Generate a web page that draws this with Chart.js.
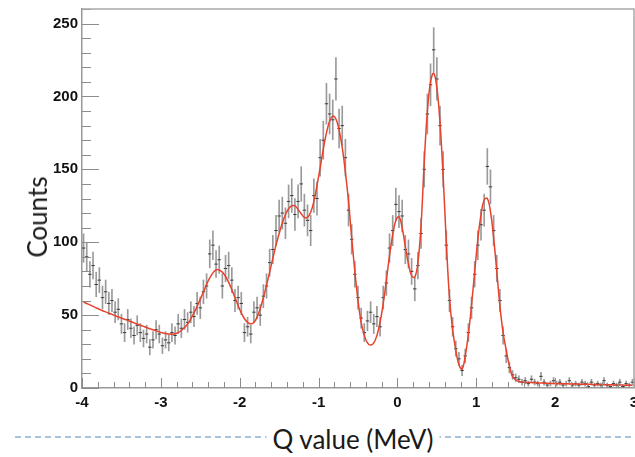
<!DOCTYPE html>
<html lang="en">
<head>
  <meta charset="UTF-8">
  <title>Q value spectrum</title>
  <script src="https://cdn.jsdelivr.net/npm/chart.js"></script>
  <style>
    body { margin: 0; background: white; }
    #wrap { position: relative; width: 635px; height: 457px; overflow: hidden; }
    #chart { position: absolute; left: 0; top: 0; }
    #dash {
      position: absolute; left: 15px; top: 436px; width: 620px; height: 2px;
      background-image: linear-gradient(to right, #a9c3da 60%, transparent 60%);
      background-size: 10px 2px;
    }
    .lab { position: absolute; font-family: Lato, "Open Sans", sans-serif; font-size: 26px; color: #1a1a1a; white-space: nowrap; }
    #ylab { left: 37px; top: 217px; transform: translate(-50%, -50%) rotate(-90deg); }
    #xlab { left: 353px; top: 439px; transform: translate(-50%, -50%); background: white; padding: 0 6px; }
  </style>
</head>
<body>
<div id="wrap">
  <canvas id="chart" width="635" height="457"></canvas>
  <div id="dash"></div>
  <div class="lab" id="ylab">Counts</div>
  <div class="lab" id="xlab">Q value (MeV)</div>
</div>

<script>
// bin centres (MeV)
const qValues = [
  -3.98,-3.94,-3.90,-3.86,-3.82,-3.78,-3.74,-3.70,-3.66,-3.62,
  -3.58,-3.54,-3.50,-3.46,-3.42,-3.38,-3.34,-3.30,-3.26,-3.22,
  -3.18,-3.14,-3.10,-3.06,-3.02,-2.98,-2.94,-2.90,-2.86,-2.82,
  -2.78,-2.74,-2.70,-2.66,-2.62,-2.58,-2.54,-2.50,-2.46,-2.42,
  -2.38,-2.34,-2.30,-2.26,-2.22,-2.18,-2.14,-2.10,-2.06,-2.02,
  -1.98,-1.94,-1.90,-1.86,-1.82,-1.78,-1.74,-1.70,-1.66,-1.62,
  -1.58,-1.54,-1.50,-1.46,-1.42,-1.38,-1.34,-1.30,-1.26,-1.22,
  -1.18,-1.14,-1.10,-1.06,-1.02,-0.98,-0.94,-0.90,-0.86,-0.82,
  -0.78,-0.74,-0.70,-0.66,-0.62,-0.58,-0.54,-0.50,-0.46,-0.42,
  -0.38,-0.34,-0.30,-0.26,-0.22,-0.18,-0.14,-0.10,-0.06,-0.02,
  0.02,0.06,0.10,0.14,0.18,0.22,0.26,0.30,0.34,0.38,
  0.42,0.46,0.50,0.54,0.58,0.62,0.66,0.70,0.74,0.78,
  0.82,0.86,0.90,0.94,0.98,1.02,1.06,1.10,1.14,1.18,
  1.22,1.26,1.30,1.34,1.38,1.42,1.46,1.50,1.54,1.58,
  1.62,1.66,1.70,1.74,1.78,1.82,1.86,1.90,1.94,1.98,
  2.02,2.06,2.10,2.14,2.18,2.22,2.26,2.30,2.34,2.38,
  2.42,2.46,2.50,2.54,2.58,2.62,2.66,2.70,2.74,2.78,
  2.82,2.86,2.90,2.94,2.98
];

// measured counts per bin
const counts = [
  96,90,78,84,71,74,62,66,58,60,
  52,54,44,38,47,41,36,43,38,34,
  37,28,33,40,37,29,33,31,38,36,
  44,41,47,45,52,49,58,55,66,70,
  92,98,85,88,70,82,84,74,60,62,
  58,38,42,37,52,55,50,63,70,86,
  95,108,118,120,113,128,132,119,128,140,
  122,115,108,132,130,158,170,195,188,184,
  212,178,180,158,122,102,78,62,48,38,
  46,52,44,49,42,62,72,96,108,126,
  121,118,95,92,80,68,84,106,150,188,
  208,232,212,180,150,98,60,42,27,20,
  12,22,38,55,78,98,112,122,152,138,
  108,82,60,36,22,14,9,7,6,4,
  5,3,6,4,3,8,4,2,3,5,
  3,4,2,3,5,2,3,2,4,3,
  1,4,2,3,2,5,2,1,3,2,
  4,1,3,2,4
];

// statistical errors per bin
const errors = [
  9.8,9.5,8.8,9.2,8.4,8.6,7.9,8.1,7.6,7.7,
  7.2,7.3,6.6,6.2,6.9,6.4,6.0,6.6,6.2,5.8,
  6.1,5.3,5.7,6.3,6.1,5.4,5.7,5.6,6.2,6.0,
  6.6,6.4,6.9,6.7,7.2,7.0,7.6,7.4,8.1,8.4,
  9.6,9.9,9.2,9.4,8.4,9.1,9.2,8.6,7.7,7.9,
  7.6,6.2,6.5,6.1,7.2,7.4,7.1,7.9,8.4,9.3,
  9.7,10.4,10.9,11.0,10.6,11.3,11.5,10.9,11.3,11.8,
  11.0,10.7,10.4,11.5,11.4,12.6,13.0,14.0,13.7,13.6,
  14.6,13.3,13.4,12.6,11.0,10.1,8.8,7.9,6.9,6.2,
  6.8,7.2,6.6,7.0,6.5,7.9,8.5,9.8,10.4,11.2,
  11.0,10.9,9.7,9.6,8.9,8.2,9.2,10.3,12.2,13.7,
  14.4,15.2,14.6,13.4,12.2,9.9,7.7,6.5,5.2,4.5,
  3.5,4.7,6.2,7.4,8.8,9.9,10.6,11.0,12.3,11.7,
  10.4,9.1,7.7,6.0,4.7,3.7,3.0,2.6,2.4,2.0,
  2.2,1.7,2.4,2.0,1.7,2.8,2.0,1.4,1.7,2.2,
  1.7,2.0,1.4,1.7,2.2,1.4,1.7,1.4,2.0,1.7,
  1.0,2.0,1.4,1.7,1.4,2.2,1.4,1.0,1.7,1.4,
  2.0,1.0,1.7,1.4,2.0
];

const fitCurve = [
  59,58,57,56,55,54,53,52.2,51.3,50.5,
  49.6,48.8,48,47.2,46.3,45.5,44.7,43.9,43.1,42.3,
  41.5,40.7,40,39.2,38.5,37.9,37.4,37,36.9,37.2,
  38,39.5,41.5,44,47.5,51.5,56,61,66,71,
  75.5,79,81,81,79.5,76.5,72.5,67.5,62,56.5,
  51.5,47.5,45,44,45,48.5,54.5,62,70.5,79.5,
  89,98,106,113,119,123,125,125,122.5,119.5,
  117,117,120.5,128,139,151,164,175,183,186.5,
  184.5,177,165,148,128,103,80,60,45,36,
  31,29.5,31,36,45,58,74,91,105,115,
  117.5,110,97,85,77,76,86,112,155,190,
  210,216,206,182,145,100,62,40,26,16,
  13,22,37,57,80,102,119,129,130,121,
  103,80,56,38,26,15,8,5.5,4.5,4.1,
  3.9,3.8,3.7,3.6,3.5,3.4,3.3,3.3,3.2,3.1,
  3.0,3.0,2.9,2.9,2.8,2.8,2.7,2.7,2.6,2.6,
  2.5,2.5,2.4,2.4,2.3,2.3,2.2,2.2,2.1,2.1,
  2.0,2.0,1.9,1.9,1.8
];

const xTicks = [-4, -3, -2, -1, 0, 1, 2, 3];
const yTicks = [0, 50, 100, 150, 200, 250];

// ROOT style frame: inward ticks, grey box
const framePlugin = {
  id: "frame",
  afterDatasetsDraw(chart) {
    const { ctx, chartArea: a, scales: { x, y } } = chart;
    ctx.save();
    ctx.strokeStyle = "#8c8c8c";
    ctx.lineWidth = 1;
    ctx.beginPath();
    for (let i = 0; i <= 26; i++) {
      const v = i * 10;
      const py = Math.round(y.getPixelForValue(v)) + 0.5;
      const len = yTicks.includes(v) ? 17 : 9;
      ctx.moveTo(a.left, py);
      ctx.lineTo(a.left + len, py);
    }
    for (let i = -20; i <= 15; i++) {
      const v = i / 5;
      const px = Math.round(x.getPixelForValue(v)) + 0.5;
      const len = i % 5 === 0 ? 10 : 6;
      ctx.moveTo(px, a.bottom);
      ctx.lineTo(px, a.bottom - len);
    }
    ctx.stroke();
    ctx.strokeStyle = "#a8a8a8";
    ctx.lineWidth = 1.5;
    ctx.beginPath();
    ctx.moveTo(a.left, a.top);
    ctx.lineTo(a.right, a.top);
    ctx.lineTo(a.right, a.bottom);
    ctx.stroke();
    ctx.restore();
  }
};

const tickFont = { family: "'Liberation Sans', Arial, sans-serif", size: 15, weight: "bold" };

new Chart(document.getElementById("chart"), {
  type: "bar",
  data: {
    datasets: [
      {
        type: "line",
        label: "fit",
        data: qValues.map((q, i) => ({ x: q, y: fitCurve[i] })),
        borderColor: "#e8412c",
        borderWidth: 1.5,
        pointRadius: 0,
        tension: 0.4,
        order: 0
      },
      {
        type: "scatter",
        label: "data",
        data: qValues.map((q, i) => ({ x: q, y: counts[i] })),
        pointStyle: "line",
        pointRadius: 1.7,
        borderColor: "#3a3a3a",
        borderWidth: 1,
        order: 1
      },
      {
        type: "bar",
        label: "errors",
        data: qValues.map((q, i) => ({ x: q, y: [counts[i] - errors[i], counts[i] + errors[i]] })),
        backgroundColor: "rgba(120,120,120,0.75)",
        barThickness: 1,
        grouped: false,
        order: 2
      }
    ]
  },
  options: {
    responsive: false,
    animation: false,
    devicePixelRatio: 1,
    layout: { autoPadding: false, padding: { left: 0, right: 1, top: 9, bottom: 0 } },
    plugins: { legend: { display: false }, tooltip: { enabled: false } },
    scales: {
      x: {
        type: "linear",
        min: -4,
        max: 3,
        offset: false,
        afterBuildTicks: s => { s.ticks = xTicks.map(v => ({ value: v })); },
        ticks: { font: tickFont, color: "#111", padding: 6, maxRotation: 0, autoSkip: false },
        grid: { display: false, drawTicks: false, offset: false },
        border: { display: true, color: "#999", width: 1.5 },
        afterFit: s => { s.height = 69; s.paddingLeft = 0; s.paddingRight = 0; }
      },
      y: {
        min: 0,
        max: 260,
        afterBuildTicks: s => { s.ticks = yTicks.map(v => ({ value: v })); },
        ticks: { font: tickFont, color: "#111", padding: 4 },
        grid: { display: false, drawTicks: false },
        border: { display: true, color: "#999", width: 1.5 },
        afterFit: s => { s.width = 82; s.paddingTop = 0; s.paddingBottom = 0; }
      }
    }
  },
  plugins: [framePlugin]
});
</script>
</body>
</html>
